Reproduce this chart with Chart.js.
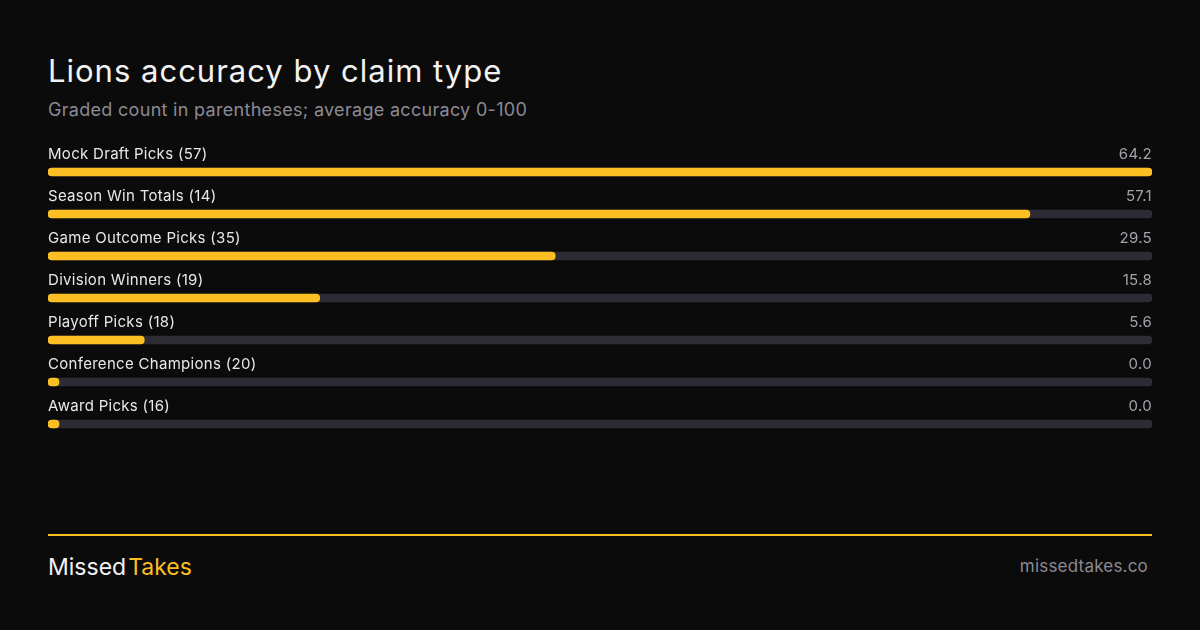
<!DOCTYPE html>
<html>
<head>
<meta charset="utf-8">
<script src="https://cdn.jsdelivr.net/npm/chart.js@4"></script>
<style>
  html, body { margin: 0; padding: 0; }
  body { width: 1200px; height: 630px; background: #0b0b0b; position: relative; overflow: hidden; font-family: Inter, "Noto Sans", sans-serif; }
  .title { position: absolute; left: 48px; top: 52px; font-size: 31px; color: #f2f2f2; font-weight: 400; letter-spacing: 1px; }
  .sub { position: absolute; left: 48px; top: 99px; font-size: 18px; color: #8b8a92; letter-spacing: 0.3px; }
  .wrap { position: absolute; left: 48px; top: 131px; width: 1104px; height: 314px; }
  .rule { position: absolute; left: 48px; top: 534px; width: 1104px; height: 2px; background: #fbbf24; }
  .brand { position: absolute; left: 48px; top: 553px; font-size: 23px; color: #f2f2f2; }
  .brand span { color: #fbbf24; margin-left: 2px; }
  .site { position: absolute; right: 52px; top: 556px; font-size: 17px; color: #8b8a92; letter-spacing: 0.2px; }
</style>
</head>
<body>
<div class="title">Lions accuracy by claim type</div>
<div class="sub">Graded count in parentheses; average accuracy 0-100</div>
<div class="wrap"><canvas id="myChart"></canvas></div>
<div class="rule"></div>
<div class="brand">Missed<span>Takes</span></div>
<div class="site">missedtakes.co</div>
<script>
const colors = {
  yellow: "#fbbf24",
  track: "#2d2b33",
  label: "#e8e8ea",
  value: "#a3a2aa"
}

const categories = ['Mock Draft Picks', 'Season Win Totals', 'Game Outcome Picks', 'Division Winners', 'Playoff Picks', 'Conference Champions', 'Award Picks'];
const counts = [57, 14, 35, 19, 18, 20, 16];
const accuracy = [64.2, 57.1, 29.5, 15.8, 5.6, 0.0, 0.0];

const maxValue = Math.max(...accuracy);
const track = accuracy.map(() => maxValue);

// labels above each bar: name (count) on left, value on right
const rowLabels = {
  id: 'rowLabels',
  afterDatasetsDraw(chart) {
    const ctx = chart.ctx;
    const y = chart.scales.y;
    const area = chart.chartArea;
    ctx.save();
    ctx.textBaseline = 'middle';
    ctx.font = '15px Inter, "Noto Sans", sans-serif';
    ctx.letterSpacing = '0.3px';
    categories.forEach((name, i) => {
      const cy = y.getPixelForValue(i) - 18;
      ctx.fillStyle = colors.label;
      ctx.textAlign = 'left';
      ctx.fillText(name + ' (' + counts[i] + ')', area.left, cy);
      ctx.fillStyle = colors.value;
      ctx.textAlign = 'right';
      ctx.fillText(accuracy[i].toFixed(1), area.right, cy);
    });
    ctx.restore();
  }
}

const myChart = document.getElementById('myChart').getContext('2d');

const barChart = new Chart(myChart, {
  type: 'bar',
  data: {
    labels: categories,
    datasets: [{
      label: 'Accuracy',
      data: accuracy,
      backgroundColor: colors.yellow,
      barThickness: 8,
      borderRadius: 4,
      borderSkipped: false,
      minBarLength: 11,
      grouped: false,
      order: 1
    }, {
      label: 'Track',
      data: track,
      backgroundColor: colors.track,
      barThickness: 8,
      borderRadius: 4,
      borderSkipped: false,
      grouped: false,
      order: 2
    }]
  },
  options: {
    indexAxis: 'y',
    responsive: true,
    maintainAspectRatio: false,
    animation: false,
    layout: { padding: { top: 20, left: 0, right: 0, bottom: 0 } },
    plugins: {
      legend: { display: false },
      tooltip: { enabled: false }
    },
    scales: {
      x: { display: false, min: 0, max: maxValue },
      y: { display: false }
    }
  },
  plugins: [rowLabels]
});
</script>
</body>
</html>
